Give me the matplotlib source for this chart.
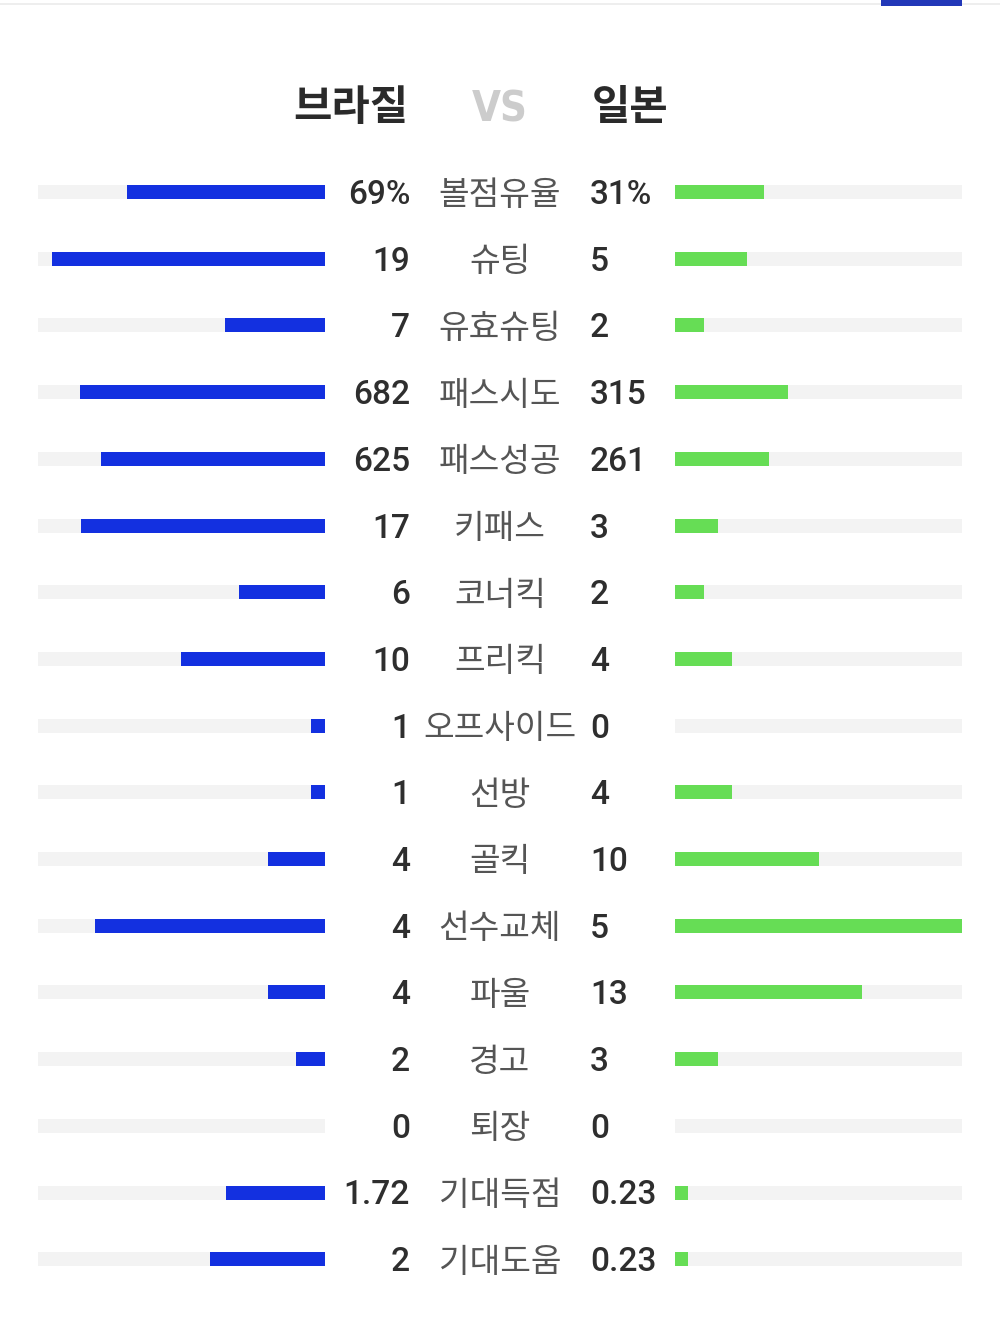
import matplotlib
matplotlib.use("Agg")
import matplotlib.pyplot as plt
from matplotlib.patches import Rectangle
import numpy as np

team_left = "브라질"
team_right = "일본"
categories = ["볼점유율", "슈팅", "유효슈팅", "패스시도", "패스성공", "키패스", "코너킥", "프리킥",
              "오프사이드", "선방", "골킥", "선수교체", "파울", "경고", "퇴장", "기대득점", "기대도움"]
left_values = [69, 19, 7, 682, 625, 17, 6, 10, 1, 1, 4, 4, 4, 2, 0, 1.72, 2]
right_values = [31, 5, 2, 315, 261, 3, 2, 4, 0, 4, 10, 5, 13, 3, 0, 0.23, 0.23]
left_labels = ["69%", "19", "7", "682", "625", "17", "6", "10", "1", "1", "4", "4", "4", "2", "0", "1.72", "2"]
right_labels = ["31%", "5", "2", "315", "261", "3", "2", "4", "0", "4", "10", "5", "13", "3", "0", "0.23", "0.23"]
scale_max = [100, 20, 20, 800, 800, 20, 20, 20, 20, 20, 20, 5, 20, 20, 20, 5, 5]

BLUE = "#1330e0"
GREEN = "#66dd55"
TRACK = "#f3f3f3"

W, H = 1000, 1342
fig = plt.figure(figsize=(W / 100, H / 100), dpi=100)
fig.patch.set_facecolor("white")

def fx(px):
    return px / W

def fy(py):
    return 1 - py / H

n = len(categories)
row0, step = 192, 66.7
top = row0 - step / 2
bottom = row0 + step * (n - 1) + step / 2

axL = fig.add_axes([fx(38), fy(bottom), fx(325 - 38), (bottom - top) / H])
axR = fig.add_axes([fx(675), fy(bottom), fx(962 - 675), (bottom - top) / H])

rows = np.arange(n)
lf = np.array(left_values) / np.array(scale_max)
rf = np.array(right_values) / np.array(scale_max)
bh = 14 / step
for ax, frac, col in [(axL, lf, BLUE), (axR, rf, GREEN)]:
    ax.barh(rows, np.ones(n), height=bh, color=TRACK, edgecolor="none")
    ax.barh(rows, frac, height=bh, color=col, edgecolor="none")
    ax.set_ylim(n - 0.5, -0.5)
    ax.axis("off")
axL.set_xlim(1, 0)
axR.set_xlim(0, 1)

num_font = ["Roboto", "DejaVu Sans"]
kr_font = ["Noto Sans CJK KR", "DejaVu Sans"]
for i in range(n):
    y = fy(row0 + step * i + 3)
    fig.text(fx(410), y, left_labels[i], ha="right", va="center", fontsize=24,
             color="#2e2e2e", family=num_font, weight=500)
    fig.text(fx(500), y, categories[i], ha="center", va="center", fontsize=24,
             color="#555555", family=kr_font)
    fig.text(fx(590), y, right_labels[i], ha="left", va="center", fontsize=24,
             color="#2e2e2e", family=num_font, weight=500)

# title
ty = fy(108)
fig.text(fx(408), ty, team_left, ha="right", va="center", fontsize=30, weight="bold",
         color="#2a2a2a", family=kr_font)
fig.text(fx(500), ty - 0.001, "VS", ha="center", va="center", fontsize=30, weight="bold",
         color="#cccccc", family=["DejaVu Sans"], fontstretch="condensed")
fig.text(fx(592), ty, team_right, ha="left", va="center", fontsize=30, weight="bold",
         color="#2a2a2a", family=kr_font)

# top tab line
fig.add_artist(Rectangle((0, fy(5)), 1, 2 / H, transform=fig.transFigure,
                         color="#eeeeee", lw=0))
fig.add_artist(Rectangle((fx(881), fy(6)), fx(962 - 881), 6 / H, transform=fig.transFigure,
                         color="#2238b8", lw=0))

fig.savefig("out.png", dpi=100, facecolor="white")
